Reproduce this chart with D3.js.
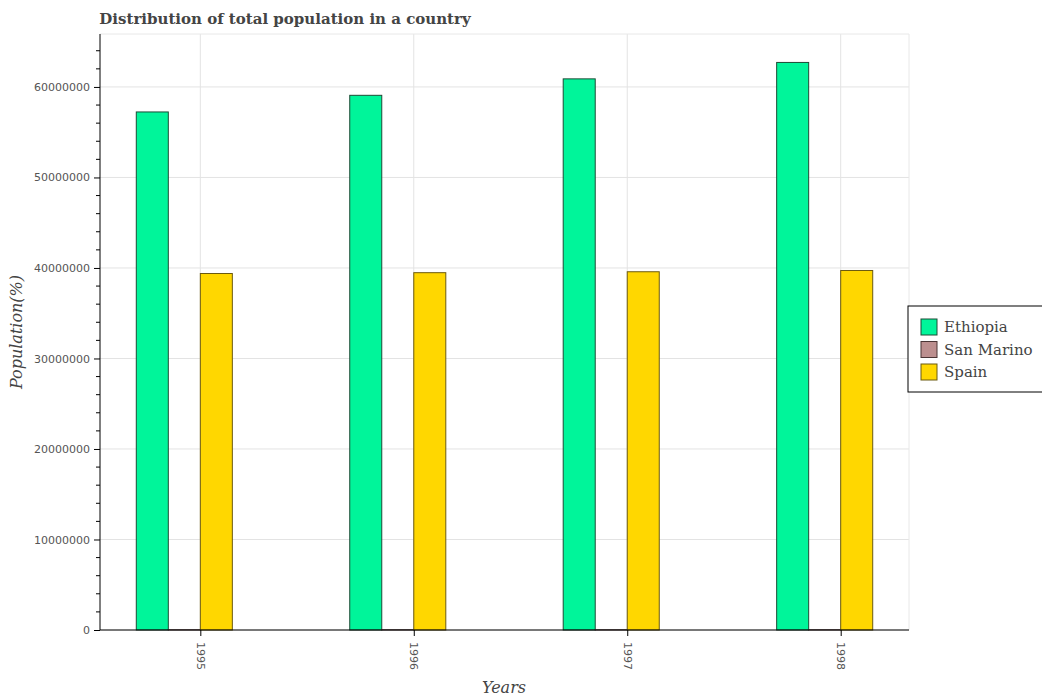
<!DOCTYPE html>
<html>
<head>
<meta charset="utf-8">
<script src="https://cdn.jsdelivr.net/npm/d3@7"></script>
<style>
body{margin:0;background:#fff;}
</style>
</head>
<body>
<svg id="chart" width="1042" height="700"></svg>
<script>
const years = [1995, 1996, 1997, 1998];
const seriesNames = ["Ethiopia", "San Marino", "Spain"];
const ethiopia = [57237226, 59076000, 60893000, 62708000];
const sanMarino = [25500, 25900, 26300, 26700];
const spain = [39387518, 39479000, 39582000, 39721000];
const yTicks = [0, 10000000, 20000000, 30000000, 40000000, 50000000, 60000000];
const colors = ["#00F59A", "#BC8F8F", "#FFD700"];
const strokes = ["#1d4a35", "#4a3535", "#6b5a10"];

const svg = d3.select("#chart");
const m = {left: 100, right: 909, top: 34, bottom: 630};
const bw = 0.15;
const x = d3.scaleLinear().domain([1994.53, 1998.32]).range([m.left, m.right]);
const y = d3.scaleLinear().domain([0, 65850000]).range([m.bottom, m.top]);

// grid
svg.append("g").selectAll("line.v").data(years).join("line")
  .attr("x1", d => x(d)).attr("x2", d => x(d)).attr("y1", m.top).attr("y2", m.bottom)
  .attr("stroke", "#e3e3e3").attr("stroke-width", 1);
svg.append("g").selectAll("line.h").data(yTicks).join("line")
  .attr("x1", m.left).attr("x2", m.right).attr("y1", d => y(d)).attr("y2", d => y(d))
  .attr("stroke", "#e3e3e3").attr("stroke-width", 1);
svg.append("line").attr("x1", m.left).attr("x2", m.right).attr("y1", m.top).attr("y2", m.top).attr("stroke", "#e8e8e8");
svg.append("line").attr("x1", m.right).attr("x2", m.right).attr("y1", m.top).attr("y2", m.bottom).attr("stroke", "#e8e8e8");

// bars
const series = [ethiopia, sanMarino, spain];
series.forEach((vals, i) => {
  svg.append("g").selectAll("rect").data(years).join("rect")
    .attr("x", (d) => x(d - 2 * bw + i * bw))
    .attr("width", x(1995 + bw) - x(1995))
    .attr("y", (d, j) => y(vals[j]))
    .attr("height", (d, j) => y(0) - y(vals[j]))
    .attr("fill", colors[i])
    .attr("stroke", strokes[i])
    .attr("stroke-width", 1);
});

// y axis
const yAxis = d3.axisLeft(y).tickValues(yTicks).tickFormat(d3.format("d")).tickSize(6).tickPadding(4);
const gy = svg.append("g").attr("transform", `translate(${m.left},0)`).call(yAxis);
const minor = d3.range(0, 65000001, 2000000).filter(v => v % 10000000 !== 0);
gy.selectAll("line.minor").data(minor).join("line")
  .attr("class", "minor").attr("x1", -4).attr("x2", 0)
  .attr("y1", d => y(d)).attr("y2", d => y(d)).attr("stroke", "#000");
gy.select(".domain").attr("d", `M0,${m.top}V${m.bottom}`).attr("stroke", "#000");
gy.selectAll(".tick text").attr("font-family", "DejaVu Sans").attr("font-size", "11px").attr("fill", "#555");

// x axis
const xAxis = d3.axisBottom(x).tickValues(years).tickFormat(d3.format("d")).tickSize(6);
const gx = svg.append("g").attr("transform", `translate(0,${m.bottom})`).call(xAxis);
gx.select(".domain").attr("d", `M${m.left},0H${m.right}`).attr("stroke", "#000");
gx.selectAll(".tick text").attr("font-family", "DejaVu Sans").attr("font-size", "11px").attr("fill", "#555")
  .attr("transform", "rotate(90)").attr("text-anchor", "start").attr("x", 12).attr("y", 0).attr("dy", "0.35em");

// title & labels
svg.append("text").attr("x", 285).attr("y", 24).attr("text-anchor", "middle")
  .attr("font-family", "DejaVu Serif").attr("font-weight", "bold").attr("font-size", "15px").attr("fill", "#444")
  .text("Distribution of total population in a country");
svg.append("text").attr("x", 504).attr("y", 693).attr("text-anchor", "middle")
  .attr("font-family", "DejaVu Serif").attr("font-style", "italic").attr("font-size", "16px").attr("fill", "#444")
  .text("Years");
svg.append("text").attr("transform", `translate(22,332) rotate(-90)`).attr("text-anchor", "middle")
  .attr("font-family", "DejaVu Serif").attr("font-style", "italic").attr("font-size", "16px").attr("fill", "#444")
  .text("Population(%)");

// legend
const lg = svg.append("g").attr("transform", "translate(908,306)");
lg.append("rect").attr("x", 0).attr("y", 0).attr("width", 140).attr("height", 86)
  .attr("fill", "#fff").attr("stroke", "#000").attr("stroke-width", 1);
seriesNames.forEach((n, i) => {
  lg.append("rect").attr("x", 13).attr("y", 13 + i * 22.5).attr("width", 16).attr("height", 16)
    .attr("fill", colors[i]).attr("stroke", strokes[i]);
  lg.append("text").attr("x", 36).attr("y", 21 + i * 22.5).attr("dy", "0.35em")
    .attr("font-family", "DejaVu Serif").attr("font-size", "15px").attr("fill", "#444").text(n);
});
</script>
</body>
</html>
